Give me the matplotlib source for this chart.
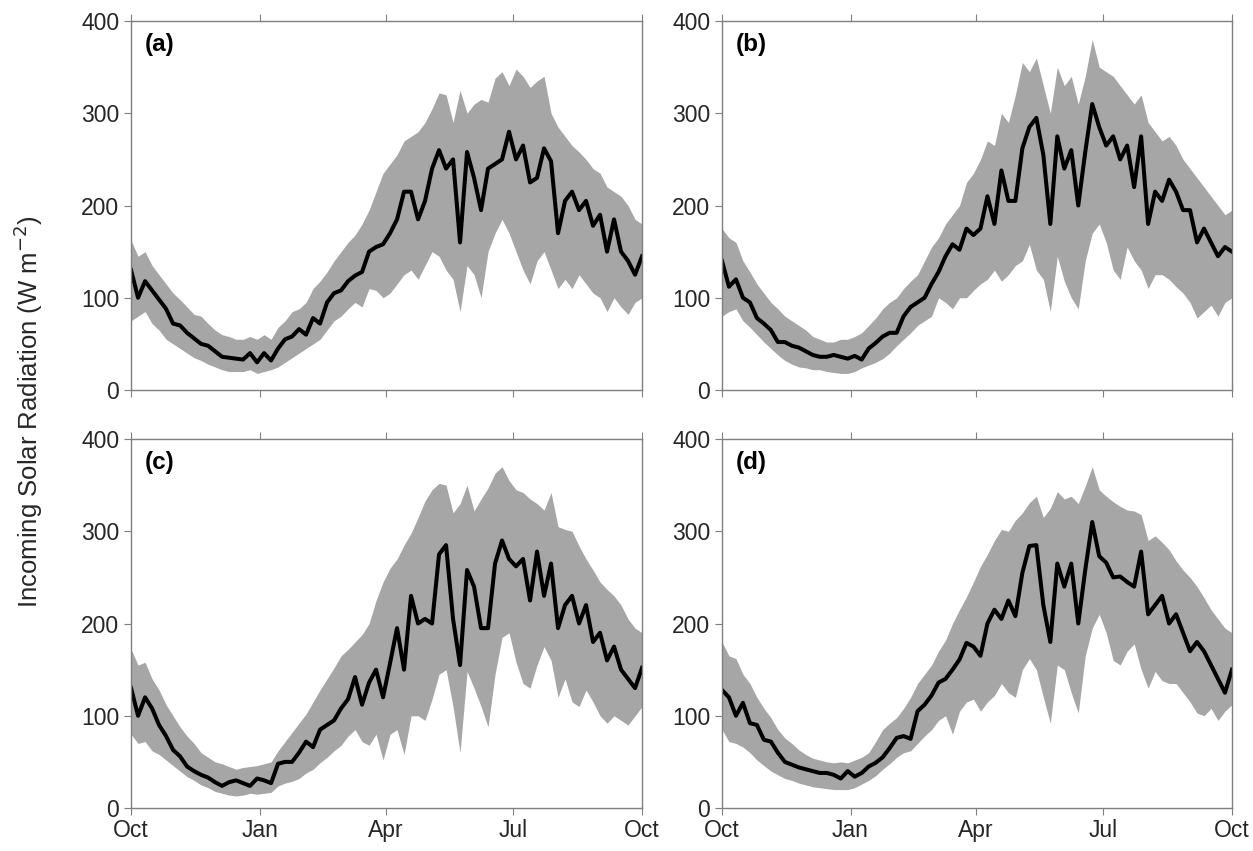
import numpy as np
import matplotlib.pyplot as plt

# sample days from 1 Oct (every 5 days), and month ticks
day = np.arange(0, 366, 5)
tick_days = [0, 92, 182, 273, 365]
tick_labels = ['Oct', 'Jan', 'Apr', 'Jul', 'Oct']
panel_names = ['(a)', '(b)', '(c)', '(d)']

# ---- panel (a)
mean_a = [130, 100, 118, 108, 98, 88, 72, 70, 62, 56,
          50, 48, 42, 36, 35, 34, 33, 40, 30, 40,
          32, 45, 55, 58, 66, 60, 78, 72, 95, 105,
          108, 118, 124, 128, 150, 155, 158, 170, 185, 215,
          215, 185, 205, 240, 260, 240, 250, 160, 258, 230,
          195, 240, 245, 250, 280, 250, 265, 225, 230, 262,
          248, 170, 205, 215, 195, 205, 178, 190, 150, 185,
          150, 140, 125, 145]
upper_a = [162, 145, 150, 135, 125, 115, 105, 98, 90, 82,
           80, 72, 65, 60, 58, 55, 55, 58, 55, 60,
           55, 68, 75, 85, 88, 95, 110, 118, 128, 140,
           150, 160, 168, 180, 195, 215, 235, 245, 255, 270,
           275, 280, 290, 305, 322, 320, 290, 325, 300, 310,
           315, 312, 338, 345, 330, 348, 340, 328, 335, 340,
           300, 285, 275, 265, 258, 250, 240, 235, 220, 215,
           210, 200, 185, 180]
lower_a = [75, 80, 85, 72, 65, 55, 50, 45, 40, 35,
           32, 28, 25, 22, 20, 20, 20, 22, 18, 20,
           22, 25, 30, 35, 40, 45, 50, 55, 65, 75,
           80, 88, 95, 90, 110, 108, 100, 105, 115, 125,
           130, 120, 135, 150, 145, 130, 120, 85, 135, 125,
           100, 150, 170, 185, 170, 150, 130, 115, 140, 150,
           130, 110, 120, 110, 125, 115, 105, 100, 85, 100,
           90, 82, 95, 100]

# ---- panel (b)
mean_b = [140, 112, 120, 100, 95, 78, 72, 65, 52, 52,
          48, 46, 42, 38, 36, 36, 38, 36, 34, 37,
          33, 45, 51, 58, 62, 62, 80, 90, 95, 100,
          115, 128, 145, 158, 152, 175, 168, 175, 210, 180,
          238, 205, 205, 262, 285, 295, 255, 180, 275, 240,
          260, 200, 258, 310, 285, 265, 275, 250, 265, 220,
          275, 180, 215, 205, 228, 215, 195, 195, 160, 175,
          160, 145, 155, 150]
upper_b = [175, 165, 160, 140, 128, 115, 105, 95, 88, 80,
           75, 70, 65, 58, 55, 52, 52, 55, 55, 58,
           62, 70, 78, 88, 95, 100, 110, 118, 125, 140,
           155, 165, 180, 190, 200, 225, 235, 250, 270, 265,
           300, 290, 320, 355, 345, 360, 330, 300, 350, 330,
           340, 310, 340, 380, 350, 345, 340, 330, 320, 310,
           320, 290, 280, 270, 275, 265, 250, 240, 230, 220,
           210, 200, 190, 195]
lower_b = [80, 85, 88, 75, 68, 60, 52, 45, 38, 32,
           28, 25, 24, 22, 22, 20, 19, 18, 18, 20,
           24, 27, 30, 34, 40, 48, 55, 62, 70, 75,
           80, 100, 95, 88, 100, 100, 108, 115, 120, 130,
           118, 125, 135, 140, 158, 130, 120, 85, 145, 118,
           100, 88, 140, 170, 180, 160, 130, 120, 155, 140,
           130, 110, 125, 125, 120, 112, 105, 95, 78, 85,
           92, 80, 95, 100]

# ---- panel (c)
mean_c = [130, 100, 120, 108, 90, 78, 63, 56, 45, 40,
          36, 33, 28, 24, 28, 30, 27, 24, 32, 30,
          27, 48, 50, 50, 60, 72, 66, 85, 90, 95,
          108, 118, 142, 112, 136, 150, 120, 157, 195, 150,
          230, 200, 205, 200, 275, 285, 205, 155, 258, 240,
          195, 195, 265, 290, 270, 262, 270, 225, 278, 230,
          265, 195, 220, 230, 200, 220, 180, 190, 160, 175,
          150, 140, 130, 152]
upper_c = [172, 155, 158, 140, 128, 112, 100, 88, 78, 70,
           60, 55, 50, 48, 45, 42, 44, 45, 46, 48,
           50, 62, 72, 82, 92, 102, 115, 128, 140, 152,
           165, 172, 180, 188, 200, 225, 245, 260, 270, 285,
           298, 315, 333, 345, 352, 350, 320, 330, 350, 322,
           335, 347, 363, 370, 355, 345, 342, 335, 330, 323,
           342, 305, 302, 300, 284, 270, 258, 245, 237, 230,
           220, 205, 195, 190]
lower_c = [80, 70, 72, 62, 58, 52, 46, 40, 34, 30,
           25, 22, 18, 16, 14, 13, 14, 16, 15, 16,
           17, 24, 27, 29, 32, 38, 42, 49, 55, 62,
           68, 78, 85, 72, 68, 80, 52, 80, 85, 58,
           100, 100, 95, 118, 145, 150, 110, 60, 148, 130,
           110, 88, 145, 185, 190, 158, 135, 130, 155, 175,
           160, 120, 140, 115, 110, 128, 115, 100, 92, 100,
           95, 90, 100, 110]

# ---- panel (d)
mean_d = [128, 120, 100, 114, 92, 90, 74, 72, 60, 50,
          47, 44, 42, 40, 38, 38, 36, 32, 40, 34,
          38, 45, 49, 55, 65, 76, 78, 75, 105, 112,
          122, 136, 140, 150, 161, 179, 175, 165, 200, 215,
          205, 225, 208, 255, 284, 285, 220, 180, 265, 240,
          265, 200, 258, 310, 273, 266, 250, 251, 245, 240,
          278, 210, 220, 230, 200, 210, 190, 170, 180, 170,
          155, 140, 125, 150]
upper_d = [180, 165, 162, 145, 135, 120, 108, 98, 85, 76,
           70, 63, 58, 54, 52, 50, 49, 50, 49, 52,
           55, 60, 72, 85, 92, 98, 108, 120, 135, 145,
           155, 170, 182, 200, 215, 229, 245, 262, 275, 290,
           302, 300, 312, 320, 331, 338, 315, 325, 343, 335,
           338, 330, 349, 370, 345, 338, 332, 327, 323, 322,
           318, 290, 295, 288, 280, 268, 258, 250, 240, 228,
           215, 205, 195, 190]
lower_d = [85, 72, 70, 66, 60, 52, 46, 40, 36, 32,
           30, 27, 25, 23, 22, 21, 20, 20, 20, 22,
           26, 30, 35, 42, 48, 55, 60, 62, 70, 78,
           85, 95, 100, 80, 105, 115, 118, 105, 115, 122,
           135, 125, 120, 150, 162, 150, 120, 92, 155, 150,
           125, 103, 165, 195, 210, 190, 160, 155, 170, 178,
           150, 130, 148, 138, 135, 135, 125, 115, 103, 100,
           108, 95, 105, 112]

means = [mean_a, mean_b, mean_c, mean_d]
uppers = [upper_a, upper_b, upper_c, upper_d]
lowers = [lower_a, lower_b, lower_c, lower_d]

plt.rcParams['font.family'] = ['Liberation Sans', 'DejaVu Sans']
txt_col = '#262626'
spine_col = '#7f7f7f'

fig = plt.figure(figsize=(12.53, 8.51), dpi=100)

# axes boxes (left, bottom, width, height) in figure fraction
boxes = [[0.1046, 0.5417, 0.4078, 0.4336],
         [0.5762, 0.5417, 0.4070, 0.4336],
         [0.1046, 0.0505, 0.4078, 0.4336],
         [0.5762, 0.0505, 0.4070, 0.4336]]

for i in range(4):
    ax = fig.add_axes(boxes[i])
    ax.fill_between(day, lowers[i], uppers[i], color='#a6a6a6', linewidth=0)
    ax.plot(day, means[i], color='black', linewidth=2.9)

    ax.set_xlim(0, 365)
    ax.set_ylim(0, 400)
    ax.set_yticks([0, 100, 200, 300, 400])
    ax.set_xticks(tick_days)
    if i >= 2:
        ax.set_xticklabels(tick_labels)
    else:
        ax.set_xticklabels([])

    ax.tick_params(axis='both', direction='out', length=5, width=0.8,
                   color=spine_col, labelsize=16.5, labelcolor=txt_col)
    ax.tick_params(axis='x', top=True, pad=3)
    for s in ax.spines.values():
        s.set_color(spine_col)
        s.set_linewidth(1.0)

    ax.text(0.027, 0.967, panel_names[i], transform=ax.transAxes,
            ha='left', va='top', fontsize=17.5, fontweight='bold', color='black')

fig.text(0.0225, 0.516, 'Incoming Solar Radiation (W m$^{-2}$)', rotation=90,
         ha='center', va='center', fontsize=18.5, color=txt_col)

fig.savefig('out.png', dpi=100)
